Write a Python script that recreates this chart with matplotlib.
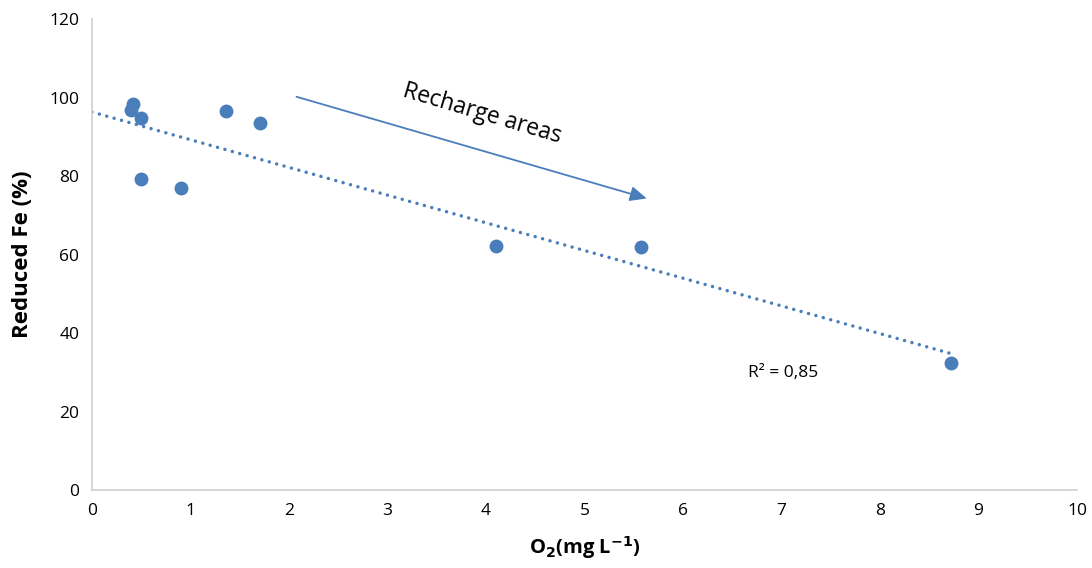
import numpy as np
import matplotlib
matplotlib.use("Agg")
import matplotlib.pyplot as plt

o2 = [0.40, 0.42, 0.50, 0.50, 0.90, 1.36, 1.71, 4.10, 5.57, 8.72]
reduced_fe = [96.8, 98.3, 94.8, 79.2, 76.9, 96.6, 93.5, 62.2, 61.9, 32.4]

blue = '#4A7EBB'
plt.rcParams['font.family'] = ['Open Sans', 'DejaVu Sans']

fig = plt.figure(figsize=(10.92, 5.68), dpi=100)
ax = fig.add_axes([0.0842, 0.137, 0.902, 0.8295])

ax.scatter(o2, reduced_fe, s=100, color=blue, zorder=3, linewidths=0)

# linear trendline, drawn from x=0 to the last point
slope, intercept = np.polyfit(o2, reduced_fe, 1)
xs = np.array([0, max(o2)])
ax.plot(xs, slope * xs + intercept, linestyle=(0, (0.01, 2.2)), color=blue, lw=2.5,
        dash_capstyle='round', zorder=2)

ax.text(7.02, 29.8, 'R² = 0,85', fontsize=12.5, ha='center', va='center')

ax.annotate('', xy=(5.66, 74.1), xytext=(2.05, 100.4),
            arrowprops=dict(arrowstyle='-|>,head_length=1.0,head_width=0.45', color=blue, lw=1.3))
ax.text(3.96, 95.8, 'Recharge areas', fontsize=16.5, rotation=-16.5, ha='center', va='center',
        rotation_mode='anchor')

ax.set_xlim(0, 10)
ax.set_ylim(0, 120)
ax.set_xticks(range(0, 11))
ax.set_yticks(range(0, 121, 20))
ax.tick_params(length=0, labelsize=12.5, pad=9)

for side in ['top', 'right']:
    ax.spines[side].set_visible(False)
for side in ['left', 'bottom']:
    ax.spines[side].set_color('#D0D0D0')
    ax.spines[side].set_linewidth(1.2)

ax.set_xlabel(r'O$_\mathbf{2}$(mg L$^{\mathbf{-1}}$)', fontsize=14.5, fontweight='bold', labelpad=11)
ax.set_ylabel('Reduced Fe (%)', fontsize=16, fontweight='bold', labelpad=12)

fig.savefig('out.png', dpi=100)
